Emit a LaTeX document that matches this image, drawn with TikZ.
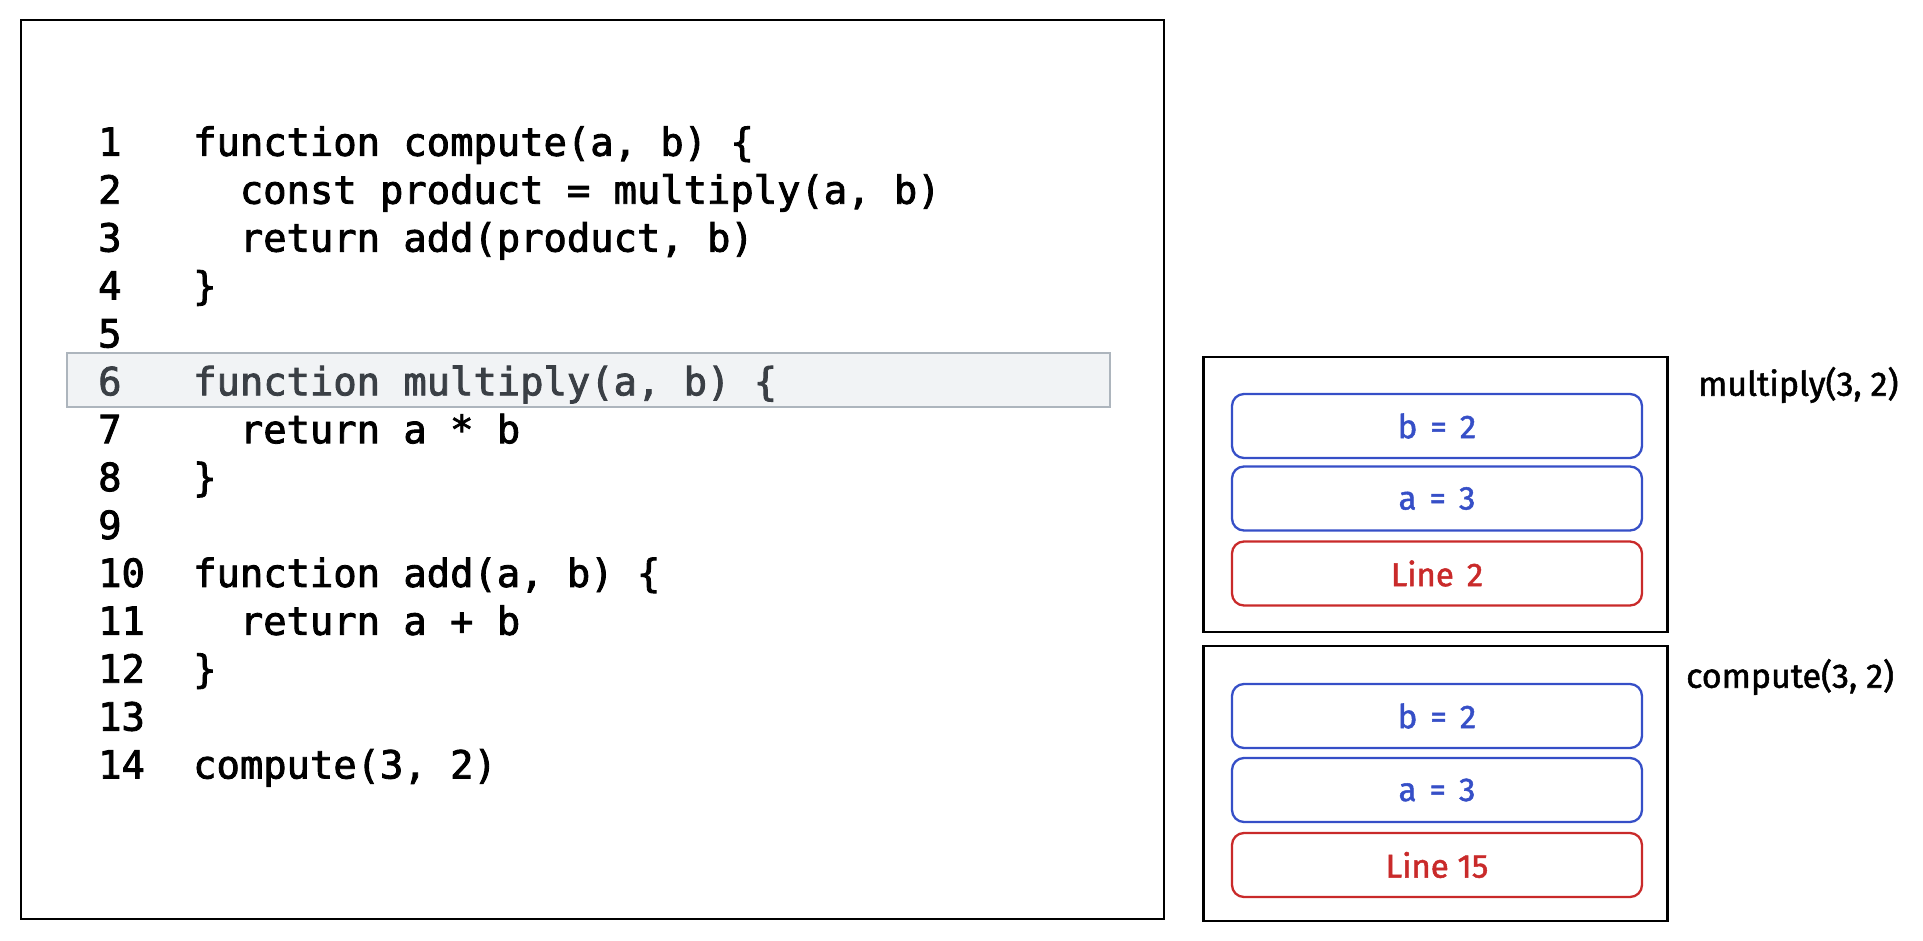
\documentclass[tikz,border=0pt]{standalone}
\usepackage{fontspec}
\newfontfamily\codefont[FakeBold=2.2]{DejaVu Sans Mono}
\newfontfamily\handfont[FakeBold=1.5]{Fira Sans}
\definecolor{frameblue}{HTML}{364FC7}
\definecolor{framered}{HTML}{C92A2A}
\definecolor{hlfill}{HTML}{F1F3F5}
\definecolor{hlborder}{HTML}{ADB5BD}
\definecolor{hltext}{HTML}{3A3F45}
\newcommand{\gapsp}{\hspace{13pt}}
\tikzset{
  codetext/.style={anchor=base west, inner sep=0pt, font=\codefont\fontsize{38.8}{40}\selectfont},
  panel/.style={draw=black, line width=2.4pt, inner sep=0pt},
  varbox/.style={draw=frameblue, text=frameblue, line width=2.3pt, rounded corners=12pt,
    minimum width=410pt, minimum height=64pt, inner sep=0pt, font=\handfont\fontsize{33}{35}\selectfont},
  retbox/.style={varbox, draw=framered, text=framered},
  framelabel/.style={inner sep=0pt, font=\handfont\fontsize{34}{36}\selectfont}
}
\begin{document}
\begin{tikzpicture}[x=1pt,y=-1pt]
\useasboundingbox (0,0) rectangle (1923,941);
% code panel
\node[panel, line width=2.2pt, minimum width=1143pt, minimum height=899pt] (codebox) at (592.5,469.5) {};
\node[draw=hlborder, fill=hlfill, line width=2.5pt, minimum width=1043pt, minimum height=54pt, inner sep=0pt] (hl) at (588.5,380) {};
% line numbers
\node[codetext] (n1) at (98,155.8) {1};
\node[codetext] (n2) at (98,203.7) {2};
\node[codetext] (n3) at (98,251.6) {3};
\node[codetext] (n4) at (98,299.5) {4};
\node[codetext] (n5) at (98,347.4) {5};
\node[codetext, text=hltext] (n6) at (98,395.3) {6};
\node[codetext] (n7) at (98,443.2) {7};
\node[codetext] (n8) at (98,491.1) {8};
\node[codetext] (n9) at (98,539.0) {9};
\node[codetext] (n10) at (98,586.9) {10};
\node[codetext] (n11) at (98,634.8) {11};
\node[codetext] (n12) at (98,682.7) {12};
\node[codetext] (n13) at (98,730.6) {13};
\node[codetext] (n14) at (98,778.5) {14};
% code
\node[codetext] (c1) at (193,155.8) {function compute(a, b) \{};
\node[codetext] (c2) at (239.7,203.7) {const product = multiply(a, b)};
\node[codetext] (c3) at (239.7,251.6) {return add(product, b)};
\node[codetext] (c4) at (193,299.5) {\}};
\node[codetext, text=hltext] (c6) at (193,395.3) {function multiply(a, b) \{};
\node[codetext] (c7) at (239.7,443.2) {return a * b};
\node[codetext] (c8) at (193,491.1) {\}};
\node[codetext] (c10) at (193,586.9) {function add(a, b) \{};
\node[codetext] (c11) at (239.7,634.8) {return a + b};
\node[codetext] (c12) at (193,682.7) {\}};
\node[codetext] (c14) at (193,778.5) {compute(3, 2)};
% stack frames
\node[panel, minimum width=464pt, minimum height=275pt] (fmul) at (1435.5,494.5) {};
\node[varbox] (mb) at (1437,426) {b\gapsp=\gapsp2};
\node[varbox] (ma) at (1437,498.5) {a\gapsp=\gapsp3};
\node[retbox] (ml) at (1437,573.5) {Line\gapsp2};
\node[framelabel, anchor=west] (lmul) at (1698,385) {multiply(3, 2)};
\node[panel, minimum width=464pt, minimum height=275pt] (fcomp) at (1435.5,783.5) {};
\node[varbox] (cb) at (1437,716) {b\gapsp=\gapsp2};
\node[varbox] (ca) at (1437,790) {a\gapsp=\gapsp3};
\node[retbox] (cl) at (1437,865) {Line 15};
\node[framelabel, anchor=west] (lcomp) at (1686,677) {compute(3, 2)};
\end{tikzpicture}
\end{document}
